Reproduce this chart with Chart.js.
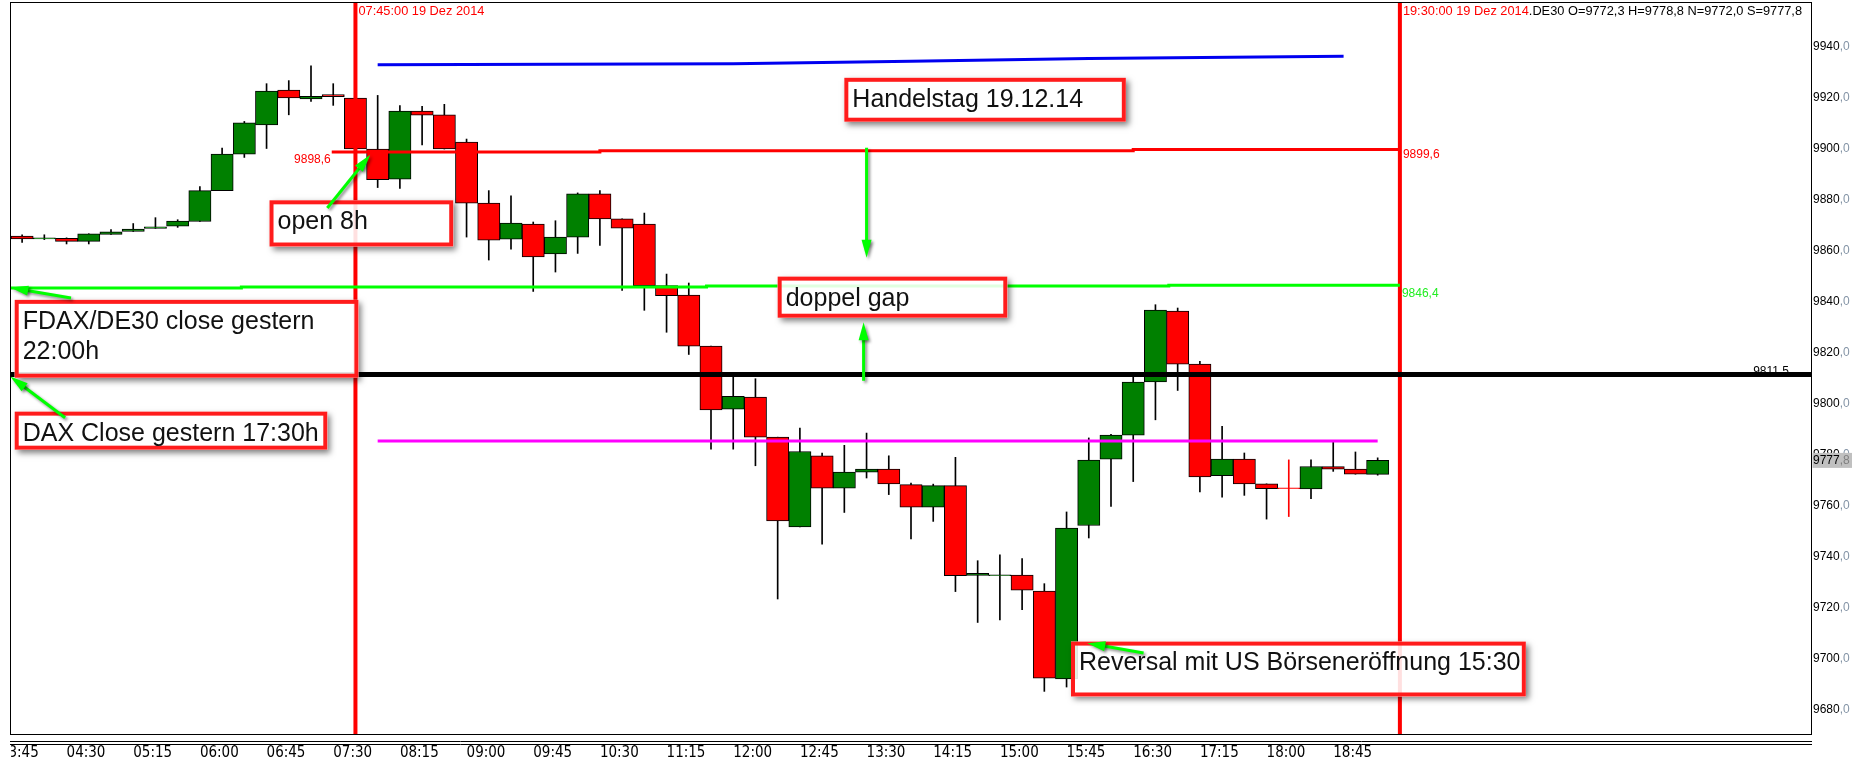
<!DOCTYPE html>
<html>
<head>
<meta charset="utf-8">
<script src="https://cdn.jsdelivr.net/npm/chart.js"></script>
<style>
  html, body { margin: 0; padding: 0; background: #fff; }
  #wrap { width: 1857px; height: 762px; position: relative; }
</style>
</head>
<body>
<div id="wrap"><canvas id="chart"></canvas></div>
<script>
// DE30 15-Minuten-Kerzen, 19.12.2014
var times = ['04:00','04:15','04:30','04:45','05:00','05:15','05:30','05:45','06:00','06:15',
  '06:30','06:45','07:00','07:15','07:30','07:45','08:00','08:15','08:30','08:45',
  '09:00','09:15','09:30','09:45','10:00','10:15','10:30','10:45','11:00','11:15',
  '11:30','11:45','12:00','12:15','12:30','12:45','13:00','13:15','13:30','13:45',
  '14:00','14:15','14:30','14:45','15:00','15:15','15:30','15:45','16:00','16:15',
  '16:30','16:45','17:00','17:15','17:30','17:45','18:00','18:15','18:30','18:45',
  '19:00','19:15'];
var opens = [9865.7,9864.6,9864.8,9863.6,9866.3,9867.5,9868.7,9869.6,9871.4,9883.5,
  9897.8,9909.2,9922.9,9919.4,9921.1,9919.8,9899.8,9888.0,9914.7,9913.2,
  9902.5,9878.6,9864.5,9870.4,9858.7,9865.3,9882.2,9872.4,9870.4,9846.3,
  9842.6,9822.6,9797.9,9802.6,9786.9,9751.7,9779.6,9766.9,9773.2,9774.4,
  9768.3,9759.5,9767.9,9732.7,9732.6,9732.9,9726.6,9692.2,9752.3,9778.3,
  9787.7,9808.5,9836.3,9815.5,9771.8,9778.3,9768.6,9766.7,9766.6,9775.4,
  9774.4,9772.3];
var highs = [9866.2,9866.2,9865.0,9866.6,9868.2,9870.6,9872.9,9872.1,9885.1,9900.2,
  9910.6,9925.4,9926.6,9932.4,9925.4,9920.5,9920.8,9916.8,9916.5,9917.3,
  9903.7,9883.5,9881.5,9871.2,9871.7,9882.6,9883.5,9872.4,9874.7,9850.8,
  9847.3,9822.6,9810.7,9809.8,9786.9,9790.5,9780.7,9783.7,9788.5,9779.6,
  9768.9,9768.5,9779.0,9738.5,9740.8,9739.3,9729.5,9757.6,9786.6,9788.0,
  9810.7,9838.8,9837.5,9816.6,9791.1,9780.7,9768.6,9778.0,9778.0,9785.0,
  9781.1,9778.8];
var lows = [9863.2,9864.3,9862.6,9862.6,9866.3,9867.5,9868.7,9869.1,9871.4,9883.5,
  9896.5,9900.0,9913.2,9918.4,9916.9,9899.0,9884.7,9884.4,9901.4,9899.8,
  9865.3,9856.3,9860.6,9844.0,9851.6,9858.9,9862.0,9844.4,9836.6,9828.0,
  9819.3,9782.2,9782.2,9775.7,9723.5,9751.7,9745.0,9757.4,9770.9,9764.4,
  9747.0,9753.9,9726.4,9714.3,9715.3,9719.3,9687.3,9689.0,9747.4,9759.8,
  9769.5,9793.7,9805.2,9765.4,9763.4,9764.1,9754.8,9755.8,9762.8,9773.5,
  9772.4,9772.0];
var closes = [9864.6,9864.7,9863.6,9866.6,9867.4,9868.4,9869.3,9871.6,9883.5,9897.8,
  9910.1,9922.5,9919.8,9920.4,9920.3,9899.8,9887.8,9914.7,9913.1,9899.8,
  9878.6,9864.1,9870.8,9857.5,9865.3,9882.2,9872.4,9868.8,9846.3,9842.3,
  9822.6,9797.6,9802.9,9786.9,9754.1,9781.3,9766.9,9773.2,9774.4,9768.6,
  9759.5,9767.9,9732.6,9733.6,9732.8,9727.0,9692.5,9751.3,9777.9,9787.7,
  9808.5,9836.7,9815.5,9771.3,9778.3,9768.6,9766.7,9766.7,9775.4,9774.4,
  9772.4,9777.8];

var tickTimes = ['03:45','04:30','05:15','06:00','06:45','07:30','08:15','09:00','09:45','10:30',
  '11:15','12:00','12:45','13:30','14:15','15:00','15:45','16:30','17:15','18:00','18:45'];
var priceTicks = [9680,9700,9720,9740,9760,9780,9800,9820,9840,9860,9880,9900,9920,9940];

// senkrechte Zeitmarken
var markers = ['07:45', '19:30'];

// gezeichnete Linien [Zeit, Kurs]
var blueLine = [['08:00',9932.8],['12:00',9933.2],['14:00',9934.2],['16:00',9935.3],['18:52',9936.1]];
var redLine = [['07:29',9898.6],['10:30',9899.1],['16:30',9899.6],['19:30',9899.6]];
var greenLine = [['03:45',9845.3],['06:28',9845.7],['11:42',9846.1],['16:54',9846.4],['19:30',9846.4]];
var blackLine = [['03:45',9811.5],['24:10',9811.5]];
var magentaLine = [['08:00',9785.4],['19:15',9785.4]];

// Notizen
var notes = [
  { text: ['Handelstag 19.12.14'], from: ['13:15', 9927.7], to: ['16:25', 9910.5] },
  { text: ['open 8h'], from: ['06:47', 9879.7], to: ['08:51', 9861.6] },
  { text: ['doppel gap'], from: ['12:30', 9849.8], to: ['15:05', 9833.7] },
  { text: ['FDAX/DE30 close gestern', '22:00h'], from: ['03:55', 9840.7], to: ['07:47', 9810.2] },
  { text: ['DAX Close gestern 17:30h'], from: ['03:55', 9796.9], to: ['07:26', 9782.0] },
  { text: ['Reversal mit US Börseneröffnung 15:30'], from: ['15:48', 9706.8], to: ['20:55', 9685.3] }
];
var arrows = [
  [['07:26', 9876.7], ['07:55', 9897.6]],
  [['13:30', 9900.3], ['13:30', 9857.2]],
  [['13:28', 9809.0], ['13:28', 9831.9]],
  [['04:33', 9841.4], ['03:52', 9845.5]],
  [['04:29', 9794.5], ['03:52', 9810.7]],
  [['16:37', 9702.3], ['15:59', 9706.2]]
];

function toMin(t) { var p = t.split(':'); return +p[0] * 60 + +p[1]; }
function fmt(v) { return v.toFixed(1).replace('.', ','); }
function pts(line) { return line.map(function (d) { return { x: toMin(d[0]), y: d[1] }; }); }

var X_MIN = toMin('03:52') + 0.5, X_MAX = toMin('24:07') + 0.5;
var Y_MIN = 9670.6, Y_MAX = 9957.4;
var last = times.length - 1;

var bodyColors = [], borderColors = [], wickColors = [];
times.forEach(function (t, i) {
  var up = closes[i] > opens[i], flat = closes[i] === opens[i];
  bodyColors.push(up ? '#008000' : '#ff0000');
  borderColors.push(flat ? '#ff0000' : '#000000');
  wickColors.push(flat ? '#ff0000' : '#000000');
});

var datasets = [
  {
    label: 'wick', order: 3, grouped: false, barThickness: 1,
    data: times.map(function (t, i) { return { x: toMin(t), y: [lows[i], highs[i]] }; }),
    backgroundColor: wickColors, borderWidth: 0
  },
  {
    label: 'body', order: 2, grouped: false, barPercentage: 1, categoryPercentage: 1, minBarLength: 1,
    data: times.map(function (t, i) { return { x: toMin(t), y: [opens[i], closes[i]] }; }),
    backgroundColor: bodyColors, borderColor: borderColors, borderWidth: 1, borderSkipped: false
  }
];
function addLine(data, color, width, stepped) {
  datasets.push({ type: 'line', order: 1, data: data, borderColor: color, borderWidth: width,
    pointRadius: 0, tension: 0, stepped: stepped || false, fill: false });
}
addLine(pts(blueLine), '#0000f0', 3);
addLine(pts(redLine), '#ff0000', 3, 'before');
addLine(pts(greenLine), '#00ff00', 3, 'before');
addLine(pts(magentaLine), '#ff00ff', 3);
addLine(pts(blackLine), '#000000', 5);
markers.forEach(function (m) {
  addLine([{ x: toMin(m), y: Y_MIN }, { x: toMin(m), y: Y_MAX }], '#ff0000', 4);
});

var decor = {
  id: 'decor',
  afterDatasetsDraw: function (chart) {
    var ctx = chart.ctx, xs = chart.scales.x, ys = chart.scales.y, a = chart.chartArea;
    function X(t) { return xs.getPixelForValue(toMin(t)); }
    function Y(p) { return ys.getPixelForValue(p); }
    ctx.save();

    // Werte an den Linien
    ctx.font = '12px "Liberation Sans", Arial';
    ctx.textBaseline = 'middle';
    ctx.fillStyle = '#ff0000';
    ctx.textAlign = 'right';
    ctx.fillText(fmt(redLine[0][1]), X(redLine[0][0]) - 1, Y(redLine[0][1]) + 8);
    ctx.textAlign = 'left';
    ctx.fillText(fmt(redLine[redLine.length - 1][1]), X(markers[1]) + 3, Y(redLine[redLine.length - 1][1]) + 5);
    ctx.fillStyle = '#22ee22';
    ctx.fillText(fmt(greenLine[greenLine.length - 1][1]), X(markers[1]) + 2, Y(greenLine[greenLine.length - 1][1]) + 8);
    ctx.fillStyle = '#000';
    ctx.textAlign = 'right';
    ctx.textBaseline = 'alphabetic';
    ctx.fillText(fmt(blackLine[0][1]), a.right - 22, Y(blackLine[0][1]) + 1);

    // Kopfzeile
    ctx.font = '12.8px "Liberation Sans", Arial';
    ctx.textAlign = 'left';
    ctx.textBaseline = 'middle';
    ctx.fillStyle = '#ff0000';
    ctx.fillText(markers[0] + ':00 19 Dez 2014', X(markers[0]) + 3, 11);
    var head = markers[1] + ':00 19 Dez 2014';
    var hx = X(markers[1]) + 3;
    ctx.fillText(head, hx, 11);
    hx += ctx.measureText(head).width;
    ctx.fillStyle = '#000';
    ctx.fillText('.DE30 O=' + fmt(opens[last]) + ' H=' + fmt(highs[last]) + ' N=' + fmt(lows[last]) +
      ' S=' + fmt(closes[last]), hx, 11);

    // Notizkästen
    notes.forEach(function (n) {
      var x1 = X(n.from[0]), y1 = Y(n.from[1]), x2 = X(n.to[0]), y2 = Y(n.to[1]);
      var w = x2 - x1, h = y2 - y1;
      ctx.save();
      ctx.beginPath();
      ctx.rect(0, 0, chart.width, chart.height);
      ctx.rect(x1, y1, w, h);
      ctx.clip('evenodd');
      ctx.shadowColor = 'rgba(0,0,0,0.5)';
      ctx.shadowBlur = 6;
      ctx.shadowOffsetX = 3;
      ctx.shadowOffsetY = 3;
      ctx.fillStyle = '#fff';
      ctx.fillRect(x1, y1, w, h);
      ctx.restore();
      ctx.fillStyle = 'rgba(255,255,255,0.88)';
      ctx.fillRect(x1, y1, w, h);
      ctx.strokeStyle = '#ff1c1c';
      ctx.lineWidth = 4;
      ctx.strokeRect(x1 + 2, y1 + 2, w - 4, h - 4);
      ctx.fillStyle = '#111';
      ctx.font = '25px "Liberation Sans", Arial, sans-serif';
      ctx.textAlign = 'left';
      ctx.textBaseline = 'middle';
      n.text.forEach(function (line, i) {
        ctx.fillText(line, x1 + 8, y1 + 22 + i * 30);
      });
    });

    // Pfeile
    arrows.forEach(function (ar) {
      var x1 = X(ar[0][0]), y1 = Y(ar[0][1]), x2 = X(ar[1][0]), y2 = Y(ar[1][1]);
      var ang = Math.atan2(y2 - y1, x2 - x1), c = Math.cos(ang), s = Math.sin(ang);
      var L = 18, W = 5;
      ctx.save();
      ctx.shadowColor = 'rgba(0,0,0,0.45)';
      ctx.shadowBlur = 3;
      ctx.shadowOffsetX = 2;
      ctx.shadowOffsetY = 2;
      ctx.strokeStyle = '#00ff00';
      ctx.fillStyle = '#00ff00';
      ctx.lineWidth = 3;
      ctx.beginPath();
      ctx.moveTo(x1, y1);
      ctx.lineTo(x2 - L * 0.7 * c, y2 - L * 0.7 * s);
      ctx.stroke();
      ctx.beginPath();
      ctx.moveTo(x2, y2);
      ctx.lineTo(x2 - L * c - W * s, y2 - L * s + W * c);
      ctx.lineTo(x2 - L * c + W * s, y2 - L * s - W * c);
      ctx.closePath();
      ctx.fill();
      ctx.restore();
    });
    ctx.restore();
  },
  afterDraw: function (chart) {
    var ctx = chart.ctx, ys = chart.scales.y, a = chart.chartArea;
    ctx.save();
    // abgeschnittene erste Zeitmarke
    ctx.fillStyle = '#fff';
    ctx.fillRect(0, a.bottom + 1, a.left, chart.height - a.bottom);
    ctx.strokeStyle = '#000';
    ctx.lineWidth = 1;
    ctx.strokeRect(a.left - 0.5, a.top + 0.5, a.right - a.left + 1, a.bottom - a.top);
    ctx.beginPath();
    ctx.moveTo(a.left - 1, a.bottom + 7.5); ctx.lineTo(a.right + 1, a.bottom + 7.5);
    ctx.moveTo(a.left - 1, a.bottom + 10.5); ctx.lineTo(a.right + 1, a.bottom + 10.5);
    ctx.stroke();

    // Nachkommastelle der Preisachse
    ctx.font = '12px "Liberation Sans", Arial';
    ctx.textAlign = 'left';
    ctx.textBaseline = 'middle';
    priceTicks.forEach(function (v) {
      var s = String(v), y = ys.getPixelForValue(v), x = a.right + 2;
      ctx.fillStyle = '#8494a6';
      ctx.fillText(',0', x + ctx.measureText(s).width, y);
    });

    // letzter Kurs
    var lp = closes[last], ly = ys.getPixelForValue(lp);
    var whole = fmt(lp).split(',');
    ctx.fillStyle = '#c0c0c0';
    ctx.fillRect(a.right + 1.5, ly - 7.5, 39.5, 15);
    ctx.fillStyle = '#000';
    ctx.fillText(whole[0], a.right + 2, ly);
    ctx.fillStyle = '#808080';
    ctx.fillText(',' + whole[1], a.right + 2 + ctx.measureText(whole[0]).width, ly);
    ctx.restore();
  }
};

Chart.defaults.font.family = '"Liberation Sans", Arial, sans-serif';

new Chart(document.getElementById('chart'), {
  type: 'bar',
  data: { datasets: datasets },
  options: {
    responsive: true,
    maintainAspectRatio: false,
    animation: false,
    devicePixelRatio: 1,
    events: [],
    layout: { padding: { top: 2, left: 11, right: 0, bottom: 0 } },
    plugins: { legend: { display: false }, tooltip: { enabled: false } },
    scales: {
      x: {
        type: 'linear', min: X_MIN, max: X_MAX, offset: false,
        grid: { display: false, drawTicks: false },
        border: { display: false },
        afterBuildTicks: function (scale) {
          scale.ticks = tickTimes.map(function (t) { return { value: toMin(t) }; });
        },
        afterFit: function (scale) {
          scale.height = 28;
          scale.paddingLeft = 0;
          scale.paddingRight = 0;
        },
        ticks: {
          align: 'start', maxRotation: 0, autoSkip: false, padding: 10, color: '#000',
          font: { family: '"Liberation Sans Narrow", "DejaVu Sans Condensed", sans-serif', size: 15 },
          callback: function (v, i) { return tickTimes[i]; }
        }
      },
      y: {
        type: 'linear', position: 'right', min: Y_MIN, max: Y_MAX,
        grid: { display: false, drawTicks: false },
        border: { display: false },
        afterBuildTicks: function (scale) {
          scale.ticks = priceTicks.map(function (v) { return { value: v }; });
        },
        afterFit: function (scale) {
          scale.width = 46;
          scale.paddingTop = 0;
          scale.paddingBottom = 0;
        },
        ticks: {
          padding: 2, color: '#000', font: { size: 12 },
          callback: function (v) { return String(v); }
        }
      }
    }
  },
  plugins: [decor]
});
</script>
</body>
</html>
